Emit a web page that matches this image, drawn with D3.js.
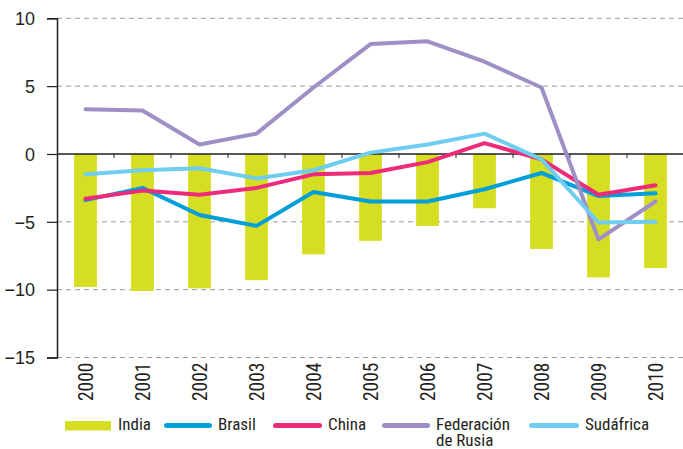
<!DOCTYPE html>
<html>
<head>
<meta charset="utf-8">
<script src="https://cdn.jsdelivr.net/npm/d3@7"></script>
<style>
  body { margin: 0; background: #fff; }
  svg text { font-family: "Liberation Sans Narrow", "Roboto Condensed", "Arial Narrow", sans-serif; fill: #231f20; }
</style>
</head>
<body>
<div id="chart"></div>
<script>
// data
var years = ["2000","2001","2002","2003","2004","2005","2006","2007","2008","2009","2010"];
var india = [-9.8, -10.1, -9.9, -9.3, -7.4, -6.4, -5.3, -4.0, -7.0, -9.1, -8.4];
var brasil = [-3.4, -2.5, -4.5, -5.3, -2.8, -3.5, -3.5, -2.6, -1.4, -3.1, -2.9];
var china = [-3.3, -2.7, -3.0, -2.5, -1.5, -1.4, -0.6, 0.8, -0.4, -3.0, -2.3];
var rusia = [3.3, 3.2, 0.7, 1.5, 4.9, 8.1, 8.3, 6.8, 4.9, -6.3, -3.5];
var sudafrica = [-1.5, -1.2, -1.05, -1.8, -1.2, 0.1, 0.7, 1.5, -0.4, -5.05, -5.0];
var yTicks = [10, 5, 0, -5, -10, -15];

var series = [
  {name: "Brasil", values: brasil, color: "#009fda"},
  {name: "China", values: china, color: "#ee2a7b"},
  {name: "Federación de Rusia", values: rusia, color: "#9e8fc6"},
  {name: "Sudáfrica", values: sudafrica, color: "#6fcdf0"}
];

var width = 683, height = 449;
var plotLeft = 57, plotRight = 684, plotTop = 18.3, plotBottom = 357.5;

var svg = d3.select("#chart").append("svg")
  .attr("width", width)
  .attr("height", height);

var x = d3.scaleBand()
  .domain(years)
  .range([plotLeft, plotRight])
  .paddingInner(0.6)
  .paddingOuter(0.3);

var y = d3.scaleLinear()
  .domain([-15, 10])
  .range([plotBottom, plotTop]);

// dashed gridlines
svg.append("g")
  .selectAll("line")
  .data(yTicks.filter(function(d){ return d != 0; }))
  .enter()
  .append("line")
    .attr("x1", plotLeft)
    .attr("x2", width)
    .attr("y1", function(d){ return y(d); })
    .attr("y2", function(d){ return y(d); })
    .attr("stroke", "#9a9a9a")
    .attr("stroke-width", 1)
    .attr("stroke-dasharray", "5,4");

// India bars
svg.append("g")
  .selectAll("rect")
  .data(india)
  .enter()
  .append("rect")
    .attr("x", function(d, i){ return x(years[i]); })
    .attr("width", x.bandwidth())
    .attr("y", y(0))
    .attr("height", function(d){ return y(d) - y(0); })
    .attr("fill", "#d6de23");

// zero line with small ticks between years
svg.append("line")
  .attr("x1", plotLeft).attr("x2", width)
  .attr("y1", y(0)).attr("y2", y(0))
  .attr("stroke", "#231f20")
  .attr("stroke-width", 1.5);

var step = x.step();
svg.append("g")
  .selectAll("line")
  .data(years.slice(1))
  .enter()
  .append("line")
    .attr("x1", function(d){ return x(d) - step * 0.3; })
    .attr("x2", function(d){ return x(d) - step * 0.3; })
    .attr("y1", y(0))
    .attr("y2", y(0) + 4)
    .attr("stroke", "#231f20")
    .attr("stroke-width", 1);

// lines
var line = d3.line()
  .x(function(d, i){ return x(years[i]) + x.bandwidth() / 2; })
  .y(function(d){ return y(d); });

svg.append("g")
  .selectAll("path")
  .data(series)
  .enter()
  .append("path")
    .attr("d", function(d){ return line(d.values); })
    .attr("fill", "none")
    .attr("stroke", function(d){ return d.color; })
    .attr("stroke-width", 4)
    .attr("stroke-linejoin", "round")
    .attr("stroke-linecap", "round");

// y axis
var yAxis = svg.append("g")
  .attr("transform", "translate(" + plotLeft + ",0)")
  .call(d3.axisLeft(y).tickValues(yTicks).tickSize(10).tickPadding(12).tickFormat(d3.format("d")));
yAxis.select(".domain").attr("stroke", "#231f20").attr("stroke-width", 1.5);
yAxis.selectAll(".tick line").attr("stroke", "#231f20").attr("stroke-width", 1.2);
yAxis.selectAll(".tick text")
  .attr("font-size", 18)
  .attr("dy", "0.35em")
  .style("font-family", "'Liberation Sans Narrow', 'Arial Narrow', sans-serif")
  .attr("fill", "#231f20");

// x labels (rotated)
svg.append("g")
  .selectAll("text")
  .data(years)
  .enter()
  .append("text")
    .attr("transform", function(d){
      return "translate(" + (x(d) + x.bandwidth() / 2 + 7) + "," + (plotBottom + 5) + ") rotate(-90)";
    })
    .attr("text-anchor", "end")
    .attr("font-size", 19.5)
    .text(function(d){ return d; });

// legend
var legend = svg.append("g").attr("font-size", 17);
legend.append("rect")
  .attr("x", 65).attr("y", 421)
  .attr("width", 46).attr("height", 9.5)
  .attr("fill", "#d6de23");
legend.append("text").attr("x", 118).attr("y", 430).text("India");

var legendPos = [
  {x1: 164, x2: 212, tx: 218},
  {x1: 273, x2: 322, tx: 328},
  {x1: 382, x2: 430, tx: 436},
  {x1: 529, x2: 579, tx: 585}
];
series.forEach(function(s, i){
  var p = legendPos[i];
  legend.append("line")
    .attr("x1", p.x1 + 2.5).attr("x2", p.x2 - 2.5)
    .attr("y1", 425.5).attr("y2", 425.5)
    .attr("stroke", s.color)
    .attr("stroke-width", 5)
    .attr("stroke-linecap", "round");
  if (s.name == "Federación de Rusia") {
    legend.append("text").attr("x", p.tx).attr("y", 430).text("Federación");
    legend.append("text").attr("x", p.tx).attr("y", 446).text("de Rusia");
  } else {
    legend.append("text").attr("x", p.tx).attr("y", 430).text(s.name);
  }
});
</script>
</body>
</html>
